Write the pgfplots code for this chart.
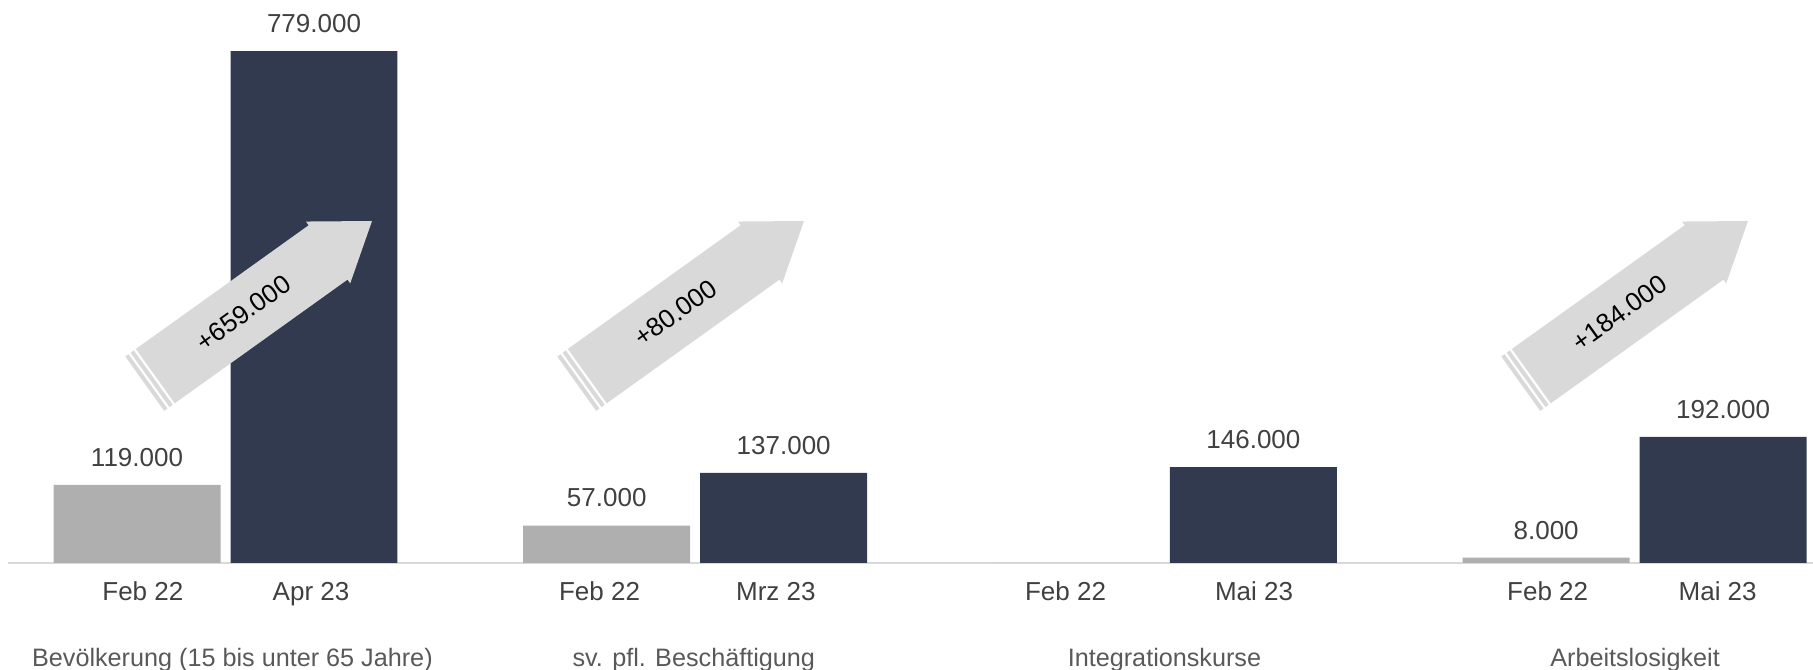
\documentclass[border=0pt]{standalone}
\usepackage{fontspec}
\setmainfont{Liberation Sans}
\usepackage{pgfplots}
\pgfplotsset{compat=1.18}

\definecolor{navy}{HTML}{323A4F}
\definecolor{barGray}{HTML}{AFAFAF}
\definecolor{arrowGray}{HTML}{D9D9D9}
\definecolor{lineGray}{HTML}{D9D9D9}
\definecolor{txt}{HTML}{404040}
\definecolor{cattxt}{HTML}{595959}

\newcommand{\lbl}{\fontsize{13}{15.5}\selectfont}
\newcommand{\catlbl}{\fontsize{12.6}{15}\selectfont}

% striped block arrow, tip at coordinate #1, label #2 (units: 1 = 0.5pt)
\newcommand{\growtharrow}[2]{%
  \begin{scope}[shift={(#1)}, rotate=35.6, x=0.5pt, y=0.5pt]
    \fill[arrowGray] (0,0) -- (-54,38) -- (-54,33.4) -- (-266.5,33.4)
      -- (-266.5,-33.4) -- (-54,-33.4) -- (-54,-38) -- cycle;
    \fill[arrowGray] (-269,33.4) rectangle (-273,-33.4);
    \fill[arrowGray] (-275.5,33.4) rectangle (-279.5,-33.4);
    \node[font=\lbl, text=black, rotate=35.6] at (-158,0) {#2};
  \end{scope}}

\begin{document}
\begin{tikzpicture}
\begin{axis}[
  scale only axis, width=906.5pt, height=281.5pt,
  xmin=-0.4801, xmax=3.3798, ymin=0, ymax=856.7,
  axis line style={draw=none}, tick style={draw=none},
  ytick=\empty,
  xtick={-0.176,0.1821,0.7963,1.1718,1.7884,2.1897,2.8149,3.1768},
  xticklabels={Feb 22,Apr 23,Feb 22,Mrz 23,Feb 22,Mai 23,Feb 22,Mai 23},
  xticklabel style={font=\lbl, text=txt, anchor=base, yshift=-14.5pt},
  extra x ticks={0.0147,0.997,1.999,3.0009},
  extra x tick labels={Bevölkerung (15 bis unter 65 Jahre),sv. pfl. Beschäftigung,Integrationskurse,Arbeitslosigkeit},
  extra x tick style={xticklabel style={font=\catlbl, text=cattxt, yshift=-33pt}},
  ybar, bar width=0.3555,
  clip=false,
  nodes near coords={\pgfplotspointmeta},
  point meta=explicit symbolic,
  every node near coord/.append style={font=\lbl, text=txt, inner sep=0pt, yshift=9pt},
]
\draw[lineGray, line width=1pt] (axis cs:-0.4631,0) -- (axis cs:3.3798,0);
% values in thousands
\addplot[fill=barGray, draw=none, bar shift=0pt] coordinates {
  (-0.1884,119) [119.000] (0.8116,57) [57.000] (1.8116,0) [] (2.8116,8) [8.000]};
\addplot[fill=navy, draw=none, bar shift=0pt] coordinates {
  (0.1884,779) [779.000] (1.1884,137) [137.000] (2.1884,146) [146.000] (3.1884,192) [192.000]};
\coordinate (t1) at (axis cs:0.3119,520.4);
\coordinate (t2) at (axis cs:1.2316,520.4);
\coordinate (t4) at (axis cs:3.2414,520.4);
\coordinate (bl) at (axis cs:-0.4801,-162.8);
\coordinate (tr) at (axis cs:3.3798,856.7);
\end{axis}
\growtharrow{t1}{+659.000}
\growtharrow{t2}{+80.000}
\growtharrow{t4}{+184.000}
\pgfresetboundingbox
\path (bl) rectangle (tr);
\end{tikzpicture}
\end{document}
